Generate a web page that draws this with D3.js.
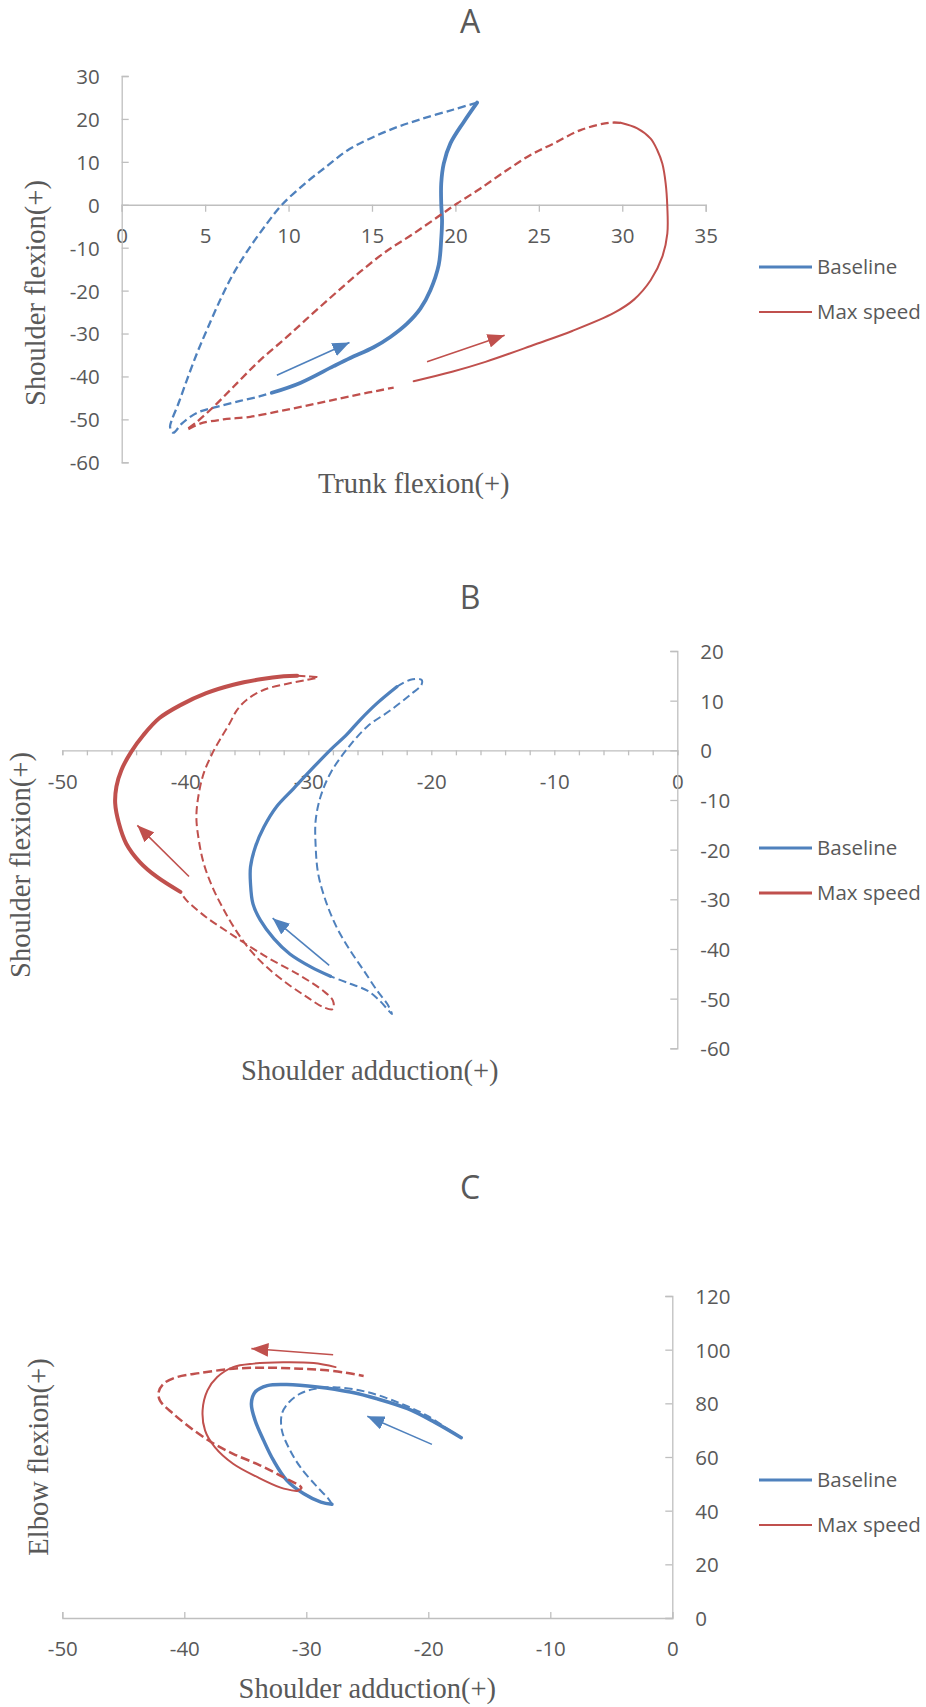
<!DOCTYPE html>
<html>
<head>
<meta charset="utf-8">
<script src="https://cdnjs.cloudflare.com/ajax/libs/d3/7.8.5/d3.min.js"></script>
<style>
  body { margin: 0; background: #fff; }
  svg { display: block; }
  .tick text { font-family: "Open Sans", sans-serif; font-size: 20.5px; fill: #595959; }
  .domain, .tick line { stroke: #bfbfbf; stroke-width: 1.3px; fill: none; }
  .title { font-family: "Open Sans", sans-serif; font-size: 32px; font-weight: 400; fill: #595959; }
  .axis-title { font-family: "Liberation Serif", "Times New Roman", serif; font-size: 28.5px; fill: #595959; }
  .legend text { font-family: "Open Sans", sans-serif; font-size: 20.5px; fill: #595959; }
</style>
</head>
<body>
<script>
// series names and colours (shared by the three panels)
var seriesNames = ["Baseline", "Max speed"];
var seriesColors = ["#4f81bd", "#c0504d"];

// ---- panel A : trunk flexion vs shoulder flexion ----
var aXTicks = [0, 5, 10, 15, 20, 25, 30, 35];
var aYTicks = [-60, -50, -40, -30, -20, -10, 0, 10, 20, 30];
var aBaseSolid = [[9.0,-43.8],[10.7,-41.5],[12.7,-37.6],[13.7,-35.7],[15.1,-33.2],[16.1,-30.8],[17.1,-27.7],[17.9,-24.2],[18.5,-19.9],[19.0,-14.0],[19.15,-8.0],[19.2,-3.6],[19.15,0.3],[19.15,5.0],[19.3,9.6],[19.7,14.3],[20.5,19.3],[21.3,23.8]];
var aBaseDash = [[21.3,23.8],[19.9,22.2],[17.9,19.9],[16.3,17.8],[14.7,15.1],[13.5,12.6],[12.3,9.0],[11.0,5.0],[9.6,0],[8.7,-4.4],[7.7,-9.8],[6.7,-16.0],[5.9,-22.2],[5.1,-29.2],[4.5,-34.7],[3.9,-40.9],[3.4,-46.3],[3.0,-50.2],[2.9,-51.8],[3.1,-53.1],[3.6,-51.0],[4.5,-48.5],[5.7,-47.1],[7.1,-45.7],[8.3,-44.6],[9.0,-43.8]];
var aMaxSolid = [[17.5,-41.1],[19.8,-38.9],[21.8,-36.6],[24.8,-32.5],[27.0,-29.4],[29.5,-25.2],[30.7,-22.1],[31.7,-17.6],[32.4,-12.1],[32.7,-6.7],[32.7,-0.5],[32.6,5.0],[32.4,9.6],[32.1,12.7],[31.7,15.4],[30.9,17.8],[29.9,19.1]];
var aMaxDash = [[29.9,19.1],[29.2,19.1],[27.5,17.4],[25.9,14.3],[24.5,11.6],[23.1,8.1],[21.5,3.8],[20.1,0.3],[19.1,-2.4],[17.5,-6.7],[15.8,-11.0],[14.3,-15.6],[12.9,-20.3],[11.4,-25.5],[9.9,-30.8],[8.3,-36.2],[6.7,-42.4],[5.5,-47.1],[4.5,-50.6],[3.9,-52.4],[4.7,-51.0],[6.1,-50.0],[7.7,-49.4],[9.7,-47.9],[11.7,-46.3],[13.7,-44.6],[16.3,-42.6]];
var aBaseArrow = [[9.3,-39.7],[13.65,-32.1]];
var aMaxArrow = [[18.3,-36.6],[22.95,-30.4]];

// ---- panel B : shoulder adduction vs shoulder flexion ----
var bXTicks = [-50, -40, -30, -20, -10, 0];
var bXMinor = d3.range(-50, 1, 2);
var bYTicks = [-60, -50, -40, -30, -20, -10, 0, 10, 20];
var bBaseSolid = [[-28.2,-45.5],[-29.8,-43.6],[-31.5,-41.0],[-32.8,-37.9],[-33.9,-34.2],[-34.5,-30.9],[-34.7,-26.8],[-34.7,-23.5],[-34.3,-19.4],[-33.6,-15.4],[-32.6,-11.4],[-31.2,-7.7],[-29.8,-4.0],[-28.2,0.1],[-26.9,3.1],[-25.8,6.1],[-24.4,9.5],[-22.8,12.8]];
var bBaseDash = [[-22.8,12.8],[-21.7,14.2],[-20.8,14.2],[-20.8,13.2],[-21.7,11.2],[-23.3,8.1],[-25.2,4.8],[-26.9,0.1],[-28.2,-4.6],[-29.0,-9.3],[-29.4,-14.1],[-29.4,-19.4],[-29.2,-24.8],[-28.6,-30.2],[-27.7,-35.6],[-26.6,-40.3],[-25.5,-44.3],[-24.4,-48.4],[-23.6,-51.0],[-23.2,-53.1],[-24.2,-50.4],[-25.2,-48.4],[-26.6,-47.0],[-28.2,-45.5]];
var bMaxSolid = [[-40.4,-28.5],[-42.3,-25.5],[-43.7,-22.5],[-44.8,-18.8],[-45.4,-14.7],[-45.7,-10.7],[-45.6,-7.3],[-45.2,-4.0],[-44.4,-0.3],[-43.4,3.1],[-42.1,6.5],[-40.4,9.1],[-38.3,11.5],[-36.1,13.2],[-33.9,14.3],[-32.0,14.9],[-30.9,15.0]];
var bMaxDash = [[-30.9,15.0],[-30.1,14.9],[-29.2,14.7],[-30.1,14.2],[-31.7,13.4],[-33.6,12.2],[-35.0,10.2],[-35.8,8.1],[-36.4,5.4],[-37.2,2.1],[-37.8,-0.6],[-38.5,-4.6],[-38.9,-8.7],[-39.1,-13.4],[-38.9,-18.1],[-38.5,-22.8],[-37.8,-27.5],[-37.0,-31.5],[-35.9,-36.2],[-34.7,-40.3],[-33.4,-43.6],[-31.7,-47.0],[-30.1,-49.7],[-28.8,-51.7],[-28.0,-52.1],[-28.0,-50.4],[-28.8,-48.4],[-30.7,-45.3],[-33.4,-41.6],[-36.1,-37.3],[-38.3,-33.6],[-39.9,-30.2],[-40.4,-28.5]];
var bBaseArrow = [[-28.3,-43.3],[-32.9,-33.8]];
var bMaxArrow = [[-39.7,-25.4],[-43.9,-15.1]];

// ---- panel C : shoulder adduction vs elbow flexion ----
var cXTicks = [-50, -40, -30, -20, -10, 0];
var cYTicks = [0, 20, 40, 60, 80, 100, 120];
var cBaseSolid = [[-17.3,67.2],[-19.5,73.0],[-21.7,78.0],[-24.2,81.7],[-26.4,84.2],[-29.1,86.1],[-31.6,87.0],[-33.2,86.6],[-34.2,84.2],[-34.5,79.9],[-34.2,73.7],[-33.5,66.2],[-32.7,58.8],[-31.6,51.3],[-30.2,46.3],[-28.8,43.2],[-27.9,42.4]];
var cBaseDash = [[-27.9,42.4],[-28.2,44.5],[-29.1,48.8],[-30.5,56.3],[-31.4,63.1],[-32.0,69.9],[-32.0,76.1],[-31.4,80.5],[-30.5,83.6],[-29.4,85.3],[-27.7,86.0],[-25.0,84.2],[-22.3,80.0],[-20.1,75.4],[-18.2,69.8],[-17.3,67.2]];
var cMaxSolid = [[-27.6,93.5],[-29.4,95.0],[-31.9,95.3],[-34.3,94.8],[-36.0,93.5],[-37.3,89.8],[-38.1,84.8],[-38.5,77.4],[-38.3,69.9],[-37.5,63.7],[-36.0,57.5],[-34.0,52.5],[-32.1,48.6],[-30.8,47.3]];
var cMaxDash = [[-30.8,47.3],[-30.4,48.5],[-31.9,52.5],[-33.8,56.9],[-36.0,61.2],[-37.6,65.0],[-39.2,69.9],[-40.9,76.1],[-42.0,81.1],[-42.1,84.2],[-41.7,87.3],[-40.6,89.8],[-38.7,91.3],[-36.0,92.9],[-33.2,93.3],[-30.5,92.9],[-28.3,92.3],[-26.6,91.3],[-25.3,90.2]];
var cBaseArrow = [[-19.7,64.7],[-25.0,75.2]];
var cMaxArrow = [[-27.8,98.1],[-34.5,100.4]];

var width = 926, height = 1707;

var svg = d3.select("body").append("svg")
    .attr("width", width)
    .attr("height", height);

// arrow heads, one per colour
var defs = svg.append("defs");
seriesColors.forEach(function(c, i) {
  defs.append("marker")
      .attr("id", "head" + i)
      .attr("markerUnits", "userSpaceOnUse")
      .attr("markerWidth", 18).attr("markerHeight", 14)
      .attr("refX", 17).attr("refY", 7)
      .attr("orient", "auto")
    .append("path")
      .attr("d", "M0,0 L17,7 L0,14 Z")
      .attr("fill", c);
});

var fmt = function(d) { return String(d); };

function drawPanel(p) {
  var x = d3.scaleLinear().domain(p.xDomain).range(p.xRange);
  var y = d3.scaleLinear().domain(p.yDomain).range(p.yRange);
  var g = svg.append("g");

  // x axis sits on y = 0
  var xAxis = d3.axisBottom(x)
      .tickValues(p.xTickValues)
      .tickSize(p.xTickSize)
      .tickSizeOuter(p.xTickSize)
      .tickFormat(function(d) { return p.xTicks.indexOf(d) >= 0 ? fmt(d) : ""; });
  var gx = g.append("g")
      .attr("transform", "translate(0," + y(0) + ")")
      .call(xAxis);
  gx.selectAll(".tick text").attr("y", p.xLabelOffset).attr("dy", "0.36em");

  // y axis sits on x = 0
  var yAxis = (p.yLabelsLeft ? d3.axisLeft(y) : d3.axisRight(y))
      .tickValues(p.yTicks)
      .tickSize(-7)
      .tickSizeOuter(-7)
      .tickPadding(p.yLabelPad)
      .tickFormat(fmt);
  var gy = g.append("g")
      .attr("transform", "translate(" + x(0) + ",0)")
      .call(yAxis);
  gy.selectAll(".tick text").attr("dy", "0.36em");

  var line = d3.line()
      .x(function(d) { return x(d[0]); })
      .y(function(d) { return y(d[1]); })
      .curve(d3.curveCatmullRom.alpha(0.5));

  // series: dashed part then solid part, for baseline / max speed
  p.series.forEach(function(s, i) {
    g.append("path")
        .datum(s.dash)
        .attr("d", line)
        .attr("fill", "none")
        .attr("stroke", seriesColors[i])
        .attr("stroke-width", s.dashWidth)
        .attr("stroke-dasharray", s.dashArray);
    g.append("path")
        .datum(s.solid)
        .attr("d", line)
        .attr("fill", "none")
        .attr("stroke", seriesColors[i])
        .attr("stroke-width", s.solidWidth)
        .attr("stroke-linecap", "round");
  });

  // direction arrows
  p.arrows.forEach(function(a, i) {
    g.append("line")
        .attr("x1", x(a[0][0])).attr("y1", y(a[0][1]))
        .attr("x2", x(a[1][0])).attr("y2", y(a[1][1]))
        .attr("stroke", seriesColors[i])
        .attr("stroke-width", 1.6)
        .attr("marker-end", "url(#head" + i + ")");
  });

  // titles
  g.append("text").attr("class", "title")
      .attr("x", 470).attr("y", p.titleY)
      .attr("text-anchor", "middle")
      .text(p.title);
  g.append("text").attr("class", "axis-title")
      .attr("x", (p.xRange[0] + p.xRange[1]) / 2).attr("y", p.xTitleY)
      .attr("text-anchor", "middle")
      .text(p.xTitle);
  g.append("text").attr("class", "axis-title")
      .attr("transform", "translate(" + p.yTitlePos[0] + "," + p.yTitlePos[1] + ") rotate(-90)")
      .attr("text-anchor", "middle")
      .text(p.yTitle);

  // legend
  var lg = g.append("g").attr("class", "legend");
  seriesNames.forEach(function(name, i) {
    var ly = p.legendY + i * 45;
    lg.append("line")
        .attr("x1", 759).attr("x2", 812)
        .attr("y1", ly).attr("y2", ly)
        .attr("stroke", seriesColors[i])
        .attr("stroke-width", p.legendWidths[i]);
    lg.append("text")
        .attr("x", 817).attr("y", ly)
        .attr("dy", "0.36em")
        .text(name);
  });
}

drawPanel({
  title: "A", titleY: 33,
  xDomain: [0, 35], xRange: [121.7, 705.7],
  yDomain: [-60, 30], yRange: [462.3, 76],
  xTicks: aXTicks, xTickValues: aXTicks, xTickSize: 7, xLabelOffset: 31,
  yTicks: aYTicks, yLabelsLeft: true, yLabelPad: 22,
  xTitle: "Trunk flexion(+)", xTitleY: 493,
  yTitle: "Shoulder flexion(+)", yTitlePos: [45, 293],
  legendY: 267, legendWidths: [3, 2],
  series: [
    { solid: aBaseSolid, dash: aBaseDash, solidWidth: 3.8, dashWidth: 2.3, dashArray: "8,4" },
    { solid: aMaxSolid, dash: aMaxDash, solidWidth: 2, dashWidth: 2.3, dashArray: "8,4" }
  ],
  arrows: [aBaseArrow, aMaxArrow]
});

drawPanel({
  title: "B", titleY: 609,
  xDomain: [-50, 0], xRange: [62.3, 677.3],
  yDomain: [-60, 20], yRange: [1048.3, 651],
  xTicks: bXTicks, xTickValues: bXMinor, xTickSize: 5, xLabelOffset: 31,
  yTicks: bYTicks, yLabelsLeft: false, yLabelPad: 23,
  xTitle: "Shoulder adduction(+)", xTitleY: 1080,
  yTitle: "Shoulder flexion(+)", yTitlePos: [30, 865],
  legendY: 848, legendWidths: [3.2, 3.2],
  series: [
    { solid: bBaseSolid, dash: bBaseDash, solidWidth: 3.3, dashWidth: 2, dashArray: "8,4" },
    { solid: bMaxSolid, dash: bMaxDash, solidWidth: 4, dashWidth: 2, dashArray: "8,4" }
  ],
  arrows: [bBaseArrow, bMaxArrow]
});

drawPanel({
  title: "C", titleY: 1199,
  xDomain: [-50, 0], xRange: [62.3, 672.3],
  yDomain: [0, 120], yRange: [1618, 1296],
  xTicks: cXTicks, xTickValues: cXTicks, xTickSize: -6, xLabelOffset: 31,
  yTicks: cYTicks, yLabelsLeft: false, yLabelPad: 23,
  xTitle: "Shoulder adduction(+)", xTitleY: 1698,
  yTitle: "Elbow flexion(+)", yTitlePos: [48, 1457],
  legendY: 1480, legendWidths: [3.2, 2],
  series: [
    { solid: cBaseSolid, dash: cBaseDash, solidWidth: 3.5, dashWidth: 2, dashArray: "8,4" },
    { solid: cMaxSolid, dash: cMaxDash, solidWidth: 2, dashWidth: 2.5, dashArray: "9,4" }
  ],
  arrows: [cBaseArrow, cMaxArrow]
});
</script>
</body>
</html>
